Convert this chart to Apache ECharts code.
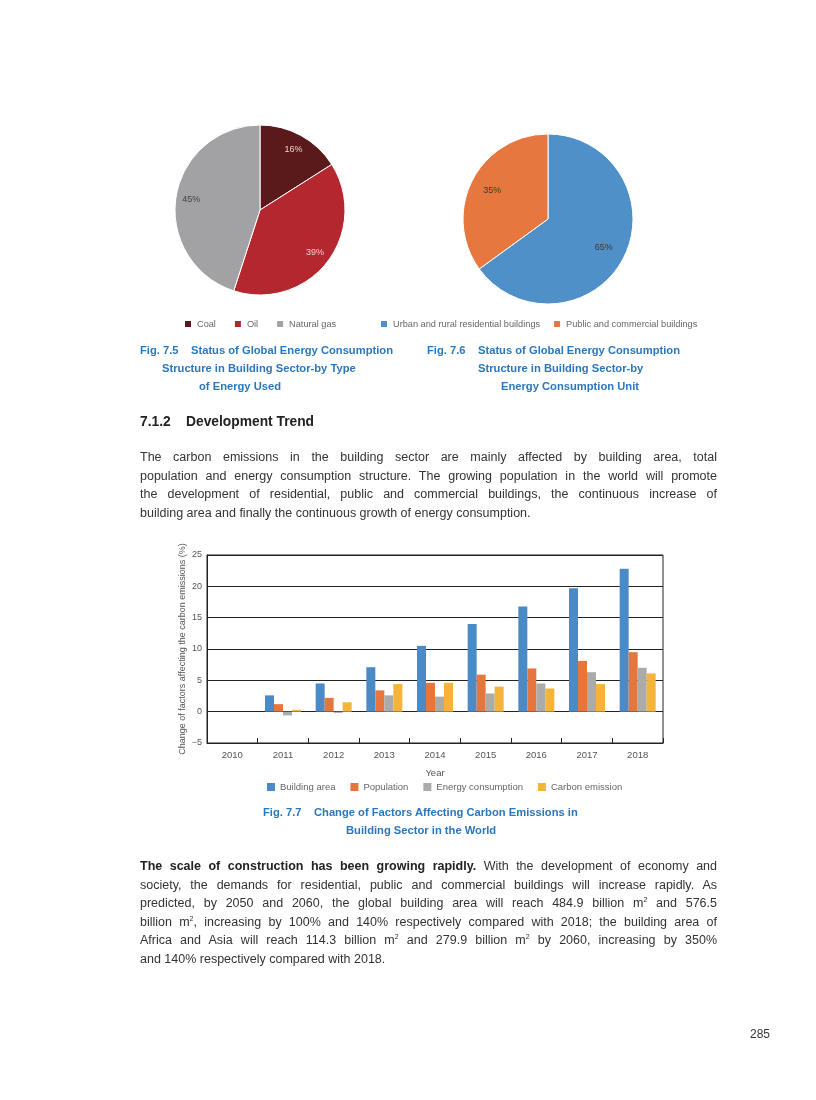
<!DOCTYPE html>
<html><head><meta charset="utf-8">
<script src="https://cdn.jsdelivr.net/npm/echarts@6/dist/echarts.min.js"></script>
<style>
html,body{margin:0;padding:0;background:#fff;}
#page{position:relative;width:816px;height:1100px;overflow:hidden;font-family:"Liberation Sans",Arial,sans-serif;}
#chart{position:absolute;left:0;top:0;width:816px;height:1100px;}
.t{position:absolute;white-space:nowrap;}
.cap{color:#2b77bd;font-weight:bold;font-size:11.2px;line-height:18px;}
.para{position:absolute;left:140px;width:577px;font-size:12.5px;line-height:18.6px;color:#333;}
.para div{text-align:justify;text-align-last:justify;white-space:nowrap;}
.para div.last{text-align-last:left;}
sup{font-size:7px;vertical-align:5px;line-height:0;}
</style></head>
<body><div id="page">
<div id="chart"></div>
<div class="t cap" style="left:140px;top:341px">Fig. 7.5&nbsp;&nbsp;&nbsp; Status of Global Energy Consumption</div>
<div class="t cap" style="left:162px;top:359px">Structure in Building Sector-by Type</div>
<div class="t cap" style="left:199px;top:377px">of Energy Used</div>
<div class="t cap" style="left:427px;top:341px">Fig. 7.6&nbsp;&nbsp;&nbsp; Status of Global Energy Consumption</div>
<div class="t cap" style="left:478px;top:359px">Structure in Building Sector-by</div>
<div class="t cap" style="left:501px;top:377px">Energy Consumption Unit</div>
<div class="t" style="left:140px;top:413px;font-size:13.8px;font-weight:bold;color:#222;line-height:18px">7.1.2&nbsp;&nbsp;&nbsp; Development Trend</div>
<div class="para" style="top:448px">
<div>The carbon emissions in the building sector are mainly affected by building area, total</div>
<div>population and energy consumption structure. The growing population in the world will promote</div>
<div>the development of residential, public and commercial buildings, the continuous increase of</div>
<div class="last">building area and finally the continuous growth of energy consumption.</div>
</div>
<div class="t cap" style="left:263px;top:803px">Fig. 7.7&nbsp;&nbsp;&nbsp; Change of Factors Affecting Carbon Emissions in</div>
<div class="t cap" style="left:346px;top:821px">Building Sector in the World</div>
<div class="para" style="top:857px">
<div><b style="color:#222">The scale of construction has been growing rapidly.</b> With the development of economy and</div>
<div>society, the demands for residential, public and commercial buildings will increase rapidly. As</div>
<div>predicted, by 2050 and 2060, the global building area will reach 484.9 billion m<sup>2</sup> and 576.5</div>
<div>billion m<sup>2</sup>, increasing by 100% and 140% respectively compared with 2018; the building area of</div>
<div>Africa and Asia will reach 114.3 billion m<sup>2</sup> and 279.9 billion m<sup>2</sup> by 2060, increasing by 350%</div>
<div class="last">and 140% respectively compared with 2018.</div>
</div>
<div class="t" style="left:750px;top:1026px;font-size:12px;color:#333;line-height:16px">285</div>
</div>
<script>
// Fig 7.5 data
const energyTypes = ['Coal', 'Oil', 'Natural gas'];
const energyShares = [16, 39, 45];
// Fig 7.6 data
const unitNames = ['Urban and rural residential buildings', 'Public and commercial buildings'];
const unitShares = [65, 35];
// Fig 7.7 data
const years = ['2010', '2011', '2012', '2013', '2014', '2015', '2016', '2017', '2018'];
const buildingArea = [0, 2.6, 4.5, 7.1, 10.5, 14.0, 16.8, 19.7, 22.8];
const population = [0, 1.2, 2.2, 3.4, 4.6, 5.9, 6.9, 8.1, 9.5];
const energyConsumption = [0, -0.6, -0.2, 2.6, 2.4, 2.9, 4.5, 6.3, 7.0];
const carbonEmission = [0, 0.3, 1.5, 4.4, 4.6, 4.0, 3.7, 4.4, 6.1];
const barSeriesNames = ['Building area', 'Population', 'Energy consumption', 'Carbon emission'];

const FONT = 'Liberation Sans';
const pie1Colors = ['#5a1a1c', '#b4272f', '#a2a2a4'];
const pie1LabelColors = ['#f2cccc', '#f4cccc', '#444'];
const pie2Colors = ['#5090c8', '#e5773f'];
const barColors = ['#4a8bc7', '#e5773e', '#ababab', '#f4b43a'];

const pie1Data = energyTypes.map((n, i) => ({name: n, value: energyShares[i], itemStyle: {color: pie1Colors[i]}}));
const pie1LabelData = energyTypes.map((n, i) => ({name: n, value: energyShares[i], label: {color: pie1LabelColors[i]}}));
const pie2Data = unitNames.map((n, i) => ({name: n, value: unitShares[i], itemStyle: {color: pie2Colors[i]}}));
const pie2LabelData = unitNames.map((n, i) => ({name: n, value: unitShares[i]}));

const chart = echarts.init(document.getElementById('chart'), null, {renderer: 'canvas'});
const barValues = [buildingArea, population, energyConsumption, carbonEmission];
const legendText = {fontSize: 9.2, color: '#666', fontFamily: FONT};

const option = {
  animation: false,
  textStyle: {fontFamily: FONT},
  legend: [
    {data: energyTypes, left: 183, top: 319, padding: 0, itemWidth: 8, itemHeight: 8, itemGap: 17,
     icon: 'rect', textStyle: legendText, selectedMode: false},
    {data: unitNames, left: 379, top: 319, padding: 0, itemWidth: 8, itemHeight: 8, itemGap: 12,
     icon: 'rect', textStyle: legendText, selectedMode: false},
    {data: barSeriesNames, left: 267, top: 782, padding: 0, itemWidth: 8, itemHeight: 8, itemGap: 15,
     icon: 'rect', textStyle: {fontSize: 9.5, color: '#666', fontFamily: FONT}, selectedMode: false}
  ],
  grid: {left: 207, right: 153, top: 555, bottom: 357, show: true, borderColor: '#222', borderWidth: 1, containLabel: false},
  xAxis: {
    type: 'category', data: years,
    name: 'Year', nameLocation: 'middle', nameGap: 25, nameMoveOverlap: false,
    nameTextStyle: {fontSize: 9.5, color: '#555', fontFamily: FONT},
    axisLine: {onZero: false, lineStyle: {color: '#222'}},
    axisTick: {show: true, inside: true, length: 5, lineStyle: {color: '#222'}},
    axisLabel: {fontSize: 9.5, color: '#555', margin: 7, fontFamily: FONT}
  },
  yAxis: {
    type: 'value', min: -5, max: 25, interval: 5,
    name: 'Change of factors affecting the carbon emissions (%)',
    nameLocation: 'middle', nameGap: 20, nameRotate: 90, nameMoveOverlap: false,
    nameTextStyle: {fontSize: 9, color: '#555', fontFamily: FONT},
    axisLine: {show: true, lineStyle: {color: '#222'}},
    axisTick: {show: false},
    splitLine: {show: true, lineStyle: {color: '#222', width: 1}},
    axisLabel: {fontSize: 9, color: '#555', margin: 5, fontFamily: FONT,
      formatter: v => (v < 0 ? '\u2212' + Math.abs(v) : String(v))}
  },
  series: [
    {type: 'pie', name: 'energy', center: [260, 210], radius: [0, 85], startAngle: 90, clockwise: true,
     data: pie1Data, label: {show: false}, labelLine: {show: false},
     itemStyle: {borderColor: '#fff', borderWidth: 1}, emphasis: {disabled: true}},
    {type: 'pie', name: 'unit', center: [548, 219], radius: [0, 85], startAngle: 90, clockwise: true,
     data: pie2Data, label: {show: false}, labelLine: {show: false},
     itemStyle: {borderColor: '#fff', borderWidth: 1}, emphasis: {disabled: true}},
    {type: 'pie', name: 'energyLabels', center: [260, 210], radius: [48, 85], startAngle: 90, clockwise: true,
     silent: true, legendHoverLink: false, data: pie1LabelData,
     itemStyle: {color: 'rgba(0,0,0,0)', borderWidth: 0},
     label: {show: true, position: 'inside', formatter: '{c}%', fontSize: 9, fontFamily: FONT},
     labelLine: {show: false}, emphasis: {disabled: true}},
    {type: 'pie', name: 'unitLabels', center: [548, 219], radius: [34, 85], startAngle: 90, clockwise: true,
     silent: true, legendHoverLink: false, data: pie2LabelData,
     itemStyle: {color: 'rgba(0,0,0,0)', borderWidth: 0},
     label: {show: true, position: 'inside', formatter: '{c}%', fontSize: 9, color: '#3a3a3a', fontFamily: FONT},
     labelLine: {show: false}, emphasis: {disabled: true}}
  ].concat(barSeriesNames.map((n, i) => ({
    type: 'bar', name: n, data: barValues[i], barWidth: 9, barGap: '0%',
    itemStyle: {color: barColors[i]}, emphasis: {disabled: true}
  })))
};
chart.setOption(option);
</script>
</body></html>
